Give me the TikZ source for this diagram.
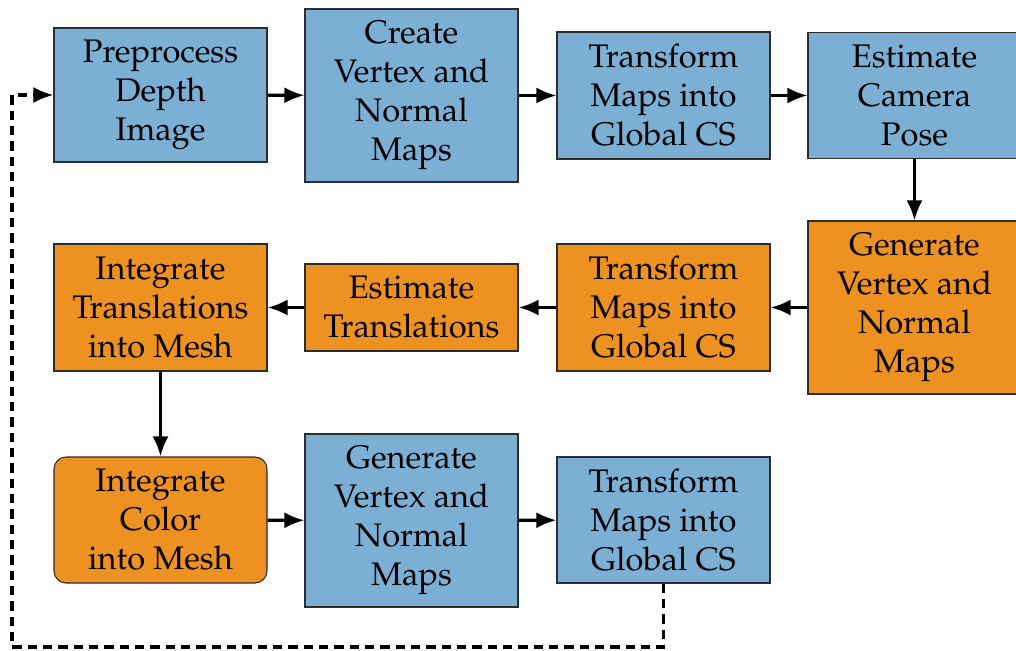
\documentclass[tikz,border=0pt]{standalone}
\usepackage[T1]{fontenc}
\usepackage{mathpazo}
\usetikzlibrary{arrows.meta}
\definecolor{stageblue}{RGB}{123,175,212}
\definecolor{stageorange}{RGB}{237,145,33}
\definecolor{edgegray}{RGB}{45,45,45}
\tikzset{
  stagebox/.style={draw=edgegray, line width=0.8pt, align=center, inner sep=0pt,
    minimum width=159.75pt, font=\fontsize{24.5}{29.25}\selectfont},
  bluebox/.style={stagebox, fill=stageblue},
  orangebox/.style={stagebox, fill=stageorange},
  flow/.style={line width=2.4pt, -{Latex[length=15pt,width=12pt]}},
  loopback/.style={flow, dash pattern=on 7pt off 4.5pt}
}
\begin{document}
\begin{tikzpicture}[x=0.75pt,y=-0.75pt]
\useasboundingbox (0,0) rectangle (1016,650);
\begin{scope}
\clip (0,0) rectangle (1016,650);
% first row
\node[bluebox, minimum height=100.5pt] (pre) at (160.5,95) {Preprocess\\Depth\\Image};
\node[bluebox, minimum height=129.75pt] (cvn) at (411.5,95.5) {Create\\Vertex and\\Normal\\Maps};
\node[bluebox, minimum height=95.25pt] (tm1) at (663.5,95.5) {Transform\\Maps into\\Global CS};
\node[bluebox, minimum height=94.5pt] (pose) at (914.5,95.5) {Estimate\\Camera\\Pose};
% second row
\node[orangebox, minimum height=129.75pt] (gvn1) at (914.5,307.5) {Generate\\Vertex and\\Normal\\Maps};
\node[orangebox, minimum height=95.25pt] (tm2) at (663.5,307.5) {Transform\\Maps into\\Global CS};
\node[orangebox, minimum height=65.25pt] (est) at (411.5,307.5) {Estimate\\Translations};
\node[orangebox, minimum height=95.25pt] (itm) at (160.5,307.5) {Integrate\\Translations\\into Mesh};
% third row
\node[orangebox, rounded corners=9pt, minimum height=94.5pt] (icm) at (160.5,520) {Integrate\\Color\\into Mesh};
\node[bluebox, minimum height=129.75pt] (gvn2) at (411.5,520.5) {Generate\\Vertex and\\Normal\\Maps};
\node[bluebox, minimum height=94.5pt] (tm3) at (663.5,520) {Transform\\Maps into\\Global CS};
\end{scope}
% connectors
\draw[flow] (pre) -- (cvn);
\draw[flow] (cvn) -- (tm1);
\draw[flow] (tm1) -- (pose);
\draw[flow] (pose) -- (gvn1);
\draw[flow] (gvn1) -- (tm2);
\draw[flow] (tm2) -- (est);
\draw[flow] (est) -- (itm);
\draw[flow] (itm) -- (icm);
\draw[flow] (icm) -- (gvn2);
\draw[flow] (gvn2) -- (tm3);
\coordinate (loopA) at (663.5,647);
\coordinate (loopB) at (12,647);
\coordinate (loopC) at (12,95);
\draw[loopback] (tm3.south) -- (loopA) -- (loopB) -- (loopC) -- (pre.west);
\end{tikzpicture}
\end{document}
